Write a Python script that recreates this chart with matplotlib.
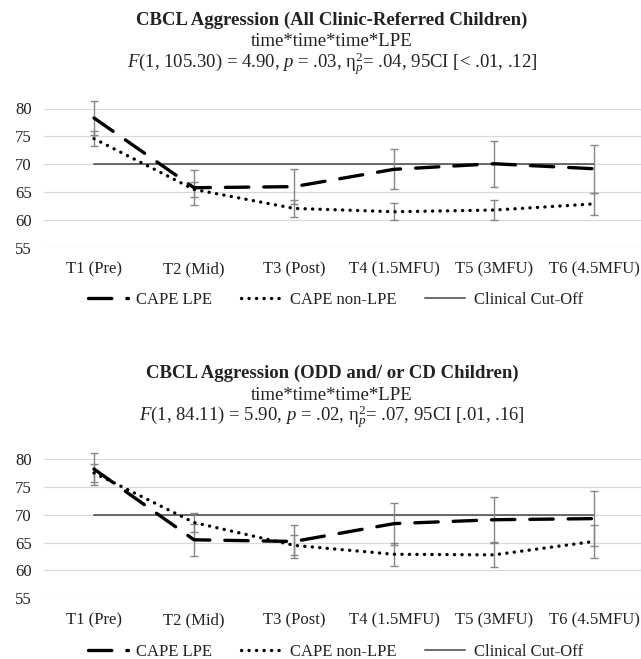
import matplotlib
matplotlib.use("Agg")
import matplotlib.pyplot as plt
from matplotlib.lines import Line2D
import numpy as np

plt.rcParams['font.family'] = ['Liberation Serif', 'DejaVu Serif']
plt.rcParams['mathtext.fontset'] = 'custom'
plt.rcParams['mathtext.rm'] = 'Liberation Serif'
plt.rcParams['mathtext.it'] = 'Liberation Serif:italic'

# categories
tiempos = ["T1 (Pre)", "T2 (Mid)", "T3 (Post)", "T4 (1.5MFU)", "T5 (3MFU)", "T6 (4.5MFU)"]
corte_clinico = 70

# panel 1: all clinic-referred children
todos_lpe = [78.3, 65.8, 66.0, 69.1, 70.1, 69.2]
todos_lpe_err = [3.0, 3.1, 3.1, 3.6, 4.1, 4.3]
todos_nolpe = [74.6, 65.5, 62.1, 61.5, 61.8, 62.9]
todos_nolpe_err = [1.4, 1.4, 1.55, 1.55, 1.8, 2.0]

# panel 2: ODD and/or CD children
odd_lpe = [78.2, 65.5, 65.2, 68.4, 69.1, 69.3]
odd_lpe_err = [2.95, 2.9, 2.95, 3.75, 4.05, 5.0]
odd_nolpe = [77.5, 68.6, 64.5, 62.9, 62.8, 65.2]
odd_nolpe_err = [1.65, 1.7, 1.8, 2.05, 2.1, 3.0]

titulos = ["CBCL Aggression (All Clinic-Referred Children)",
           "CBCL Aggression (ODD and/ or CD Children)"]
subtitulo = "time*time*time*LPE"
estadisticos = [r"$F$(1, 105.30) = 4.90, $p$ = .03, η$^{2}_{p}$= .04, 95CI [< .01, .12]",
                r"$F$(1, 84.11) = 5.90, $p$ = .02, η$^{2}_{p}$= .07, 95CI [.01, .16]"]

W, H = 641, 659
fig = plt.figure(figsize=(W / 100, H / 100), dpi=100)

gris_err = "#868686"
gris_grid = "#d9d9d9"
gris_corte = "#454545"
texto = "#222222"

estilo_lpe = dict(color="black", lw=2.4, linestyle=(0, (7.0, 4.5)), dash_capstyle='round')
estilo_nolpe = dict(color="black", lw=2.4, linestyle=(0, (0.05, 2.2)), dash_capstyle='round')


def panel(rect, lpe, lpe_err, nolpe, nolpe_err):
    ax = fig.add_axes(rect)
    x = np.arange(len(tiempos))
    ax.set_xlim(-0.5, len(tiempos) - 0.5)
    ax.set_ylim(55, 80)
    ax.set_yticks([55, 60, 65, 70, 75, 80])
    for v in [55, 60, 65, 70, 75, 80]:
        ax.axhline(v, color=gris_grid, lw=0.9, zorder=0)
    for s in ax.spines.values():
        s.set_visible(False)
    ax.tick_params(length=0, labelsize=12, colors=texto)
    ax.tick_params(axis='y', pad=9)
    ax.tick_params(axis='x', pad=10)
    ax.set_xticks(x)
    ax.set_xticklabels(tiempos)

    ax.plot(x, [corte_clinico] * len(x), color=gris_corte, lw=1.1, zorder=2)
    ax.errorbar(x, lpe, yerr=lpe_err, fmt='none', ecolor=gris_err, elinewidth=1.0,
                capsize=2.6, capthick=1.0, zorder=3, clip_on=False)
    ax.errorbar(x, nolpe, yerr=nolpe_err, fmt='none', ecolor=gris_err, elinewidth=1.0,
                capsize=2.6, capthick=1.0, zorder=3, clip_on=False)
    ax.plot(x, lpe, zorder=4, clip_on=False, **estilo_lpe)
    ax.plot(x, nolpe, zorder=4, clip_on=False, **estilo_nolpe)
    return ax


def leyenda(yc):
    h = [Line2D([], [], **estilo_lpe),
         Line2D([], [], **estilo_nolpe),
         Line2D([], [], color=gris_corte, lw=1.1)]
    fig.legend(h, ["CAPE LPE", "CAPE non-LPE", "Clinical Cut-Off"], loc='center',
               bbox_to_anchor=(0.523, 1 - yc / H), ncol=3, frameon=False,
               fontsize=12, handlelength=2.4, handletextpad=0.5, columnspacing=1.75,
               labelcolor=texto)


def titulo(y0, i):
    xc = 0.518
    fig.text(xc, 1 - y0 / H, titulos[i], ha='center', va='center',
             fontsize=13.5, fontweight='bold', color=texto)
    fig.text(xc, 1 - (y0 + 22) / H, subtitulo, ha='center', va='center', fontsize=13.5,
             color=texto)
    fig.text(xc, 1 - (y0 + 44.5) / H, estadisticos[i], ha='center', va='center', fontsize=13.5,
             color=texto)


left = 44 / W
width = 600 / W
panel([left, 1 - 248 / H, width, (248 - 108.5) / H], todos_lpe, todos_lpe_err,
      todos_nolpe, todos_nolpe_err)
panel([left, 1 - 598.3 / H, width, (598.3 - 459) / H], odd_lpe, odd_lpe_err,
      odd_nolpe, odd_nolpe_err)

titulo(20, 0)
titulo(373, 1)
leyenda(300)
leyenda(652)

fig.savefig("out.png", dpi=100)
